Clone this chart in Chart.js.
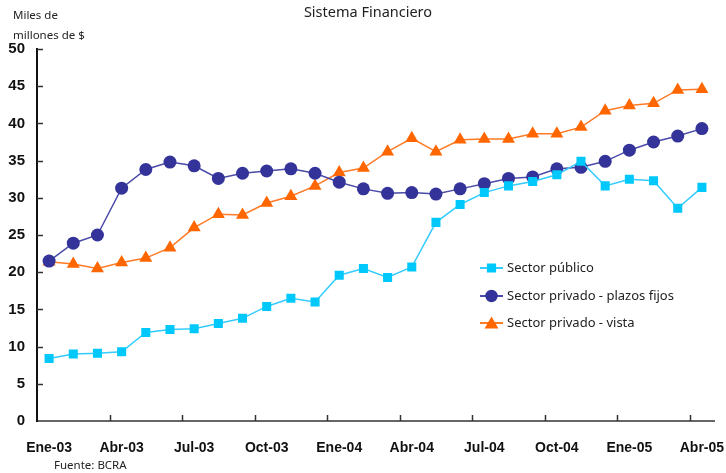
<!DOCTYPE html>
<html>
<head>
<meta charset="utf-8">
<script src="https://cdn.jsdelivr.net/npm/chart.js@4.4.1/dist/chart.umd.min.js"></script>
<style>
  body { margin: 0; background: #fff; }
  #wrap { position: relative; width: 726px; height: 473px; font-family: "Noto Sans", sans-serif; color: #222; }
  #c { position: absolute; left: 0; top: 0; }
  .txt { position: absolute; white-space: nowrap; line-height: 1; }
</style>
</head>
<body>
<div id="wrap">
  <canvas id="c" width="726" height="473"></canvas>
  <div class="txt" style="left:0;width:736px;text-align:center;top:4px;font-size:14.5px;">Sistema Financiero</div>
  <div class="txt" style="left:13px;top:9px;font-size:11.5px;">Miles de</div>
  <div class="txt" style="left:13px;top:29px;font-size:11.5px;">millones de $</div>
  <div class="txt" style="left:54px;top:459px;font-size:11.5px;">Fuente: BCRA</div>
</div>
<script>
// monthly categories Ene-03 .. Abr-05
const months = ['Ene-03','Feb-03','Mar-03','Abr-03','May-03','Jun-03','Jul-03','Ago-03','Sep-03','Oct-03','Nov-03','Dic-03',
                'Ene-04','Feb-04','Mar-04','Abr-04','May-04','Jun-04','Jul-04','Ago-04','Sep-04','Oct-04','Nov-04','Dic-04',
                'Ene-05','Feb-05','Mar-05','Abr-05'];
const tickLabels = ['Ene-03','Abr-03','Jul-03','Oct-03','Ene-04','Abr-04','Jul-04','Oct-04','Ene-05','Abr-05'];

const publico = [8.4, 9.0, 9.1, 9.3, 11.9, 12.3, 12.4, 13.1, 13.8, 15.4, 16.5, 16.0,
                 19.6, 20.5, 19.3, 20.7, 26.7, 29.1, 30.7, 31.6, 32.2, 33.1, 34.9, 31.6,
                 32.5, 32.3, 28.6, 31.4];
const plazosFijos = [21.5, 23.9, 25.0, 31.3, 33.8, 34.8, 34.3, 32.6, 33.3, 33.6, 33.9, 33.3,
                     32.1, 31.2, 30.6, 30.7, 30.5, 31.2, 31.9, 32.6, 32.8, 33.9, 34.1, 34.9,
                     36.4, 37.5, 38.3, 39.3];
const vista = [21.4, 21.1, 20.5, 21.3, 21.9, 23.3, 26.0, 27.8, 27.7, 29.3, 30.2, 31.6,
               33.4, 34.0, 36.2, 38.0, 36.2, 37.8, 37.9, 37.9, 38.6, 38.6, 39.5, 41.7,
               42.4, 42.7, 44.5, 44.6];

const seriesNames = ['Sector público', 'Sector privado - plazos fijos', 'Sector privado - vista'];

// inward tick marks on both axes + legend inside the plot
const axisDecor = {
  id: 'axisDecor',
  afterDraw(chart) {
    const ctx = chart.ctx, xs = chart.scales.x, ys = chart.scales.y;
    ctx.save();
    ctx.strokeStyle = '#333';
    ctx.lineWidth = 1.5;
    ctx.beginPath();
    for (let i = 3; i < months.length; i += 3) {
      const px = Math.round((xs.getPixelForValue(i - 1) + xs.getPixelForValue(i)) / 2) + 0.5;
      ctx.moveTo(px, ys.bottom);
      ctx.lineTo(px, ys.bottom - 6);
    }
    ys.ticks.forEach(t => {
      if (t.value === 0) return;
      const py = Math.round(ys.getPixelForValue(t.value)) + 0.5;
      ctx.moveTo(xs.left, py);
      ctx.lineTo(xs.left + 6, py);
    });
    ctx.stroke();

    // legend
    const lx = 480, rows = [268, 296, 323];
    chart.data.datasets.forEach((ds, k) => {
      const y = rows[k];
      ctx.strokeStyle = ds.borderColor;
      ctx.lineWidth = 2;
      ctx.beginPath();
      ctx.moveTo(lx, y);
      ctx.lineTo(lx + 23, y);
      ctx.stroke();
      ctx.fillStyle = ds.pointBackgroundColor;
      ctx.strokeStyle = ds.pointBackgroundColor;
      Chart.helpers.drawPoint(ctx, {pointStyle: ds.pointStyle, radius: ds.pointRadius * 0.8, rotation: 0, borderWidth: 1}, lx + 11.5, y + (ds.pointStyle === 'triangle' ? 1.5 : 0));
      ctx.fillStyle = '#222';
      ctx.font = '13px "Noto Sans"';
      ctx.textBaseline = 'middle';
      ctx.fillText(ds.label, lx + 27, y);
    });
    ctx.restore();
  }
};

new Chart(document.getElementById('c'), {
  type: 'line',
  data: {
    labels: months,
    datasets: [
      { label: seriesNames[0], data: publico, borderColor: '#33CCFF', borderWidth: 1.5,
        pointStyle: 'rect', pointRadius: 6.4, pointBackgroundColor: '#00C8FA', pointBorderColor: '#00C8FA', pointBorderWidth: 0 },
      { label: seriesNames[1], data: plazosFijos, borderColor: '#4A4AA8', borderWidth: 1.5,
        pointStyle: 'circle', pointRadius: 6.5, pointBackgroundColor: '#333399', pointBorderColor: '#333399', pointBorderWidth: 0 },
      { label: seriesNames[2], data: vista, borderColor: '#FF7A26', borderWidth: 1.5,
        pointStyle: 'triangle', pointRadius: 7.5, pointBackgroundColor: '#FF6600', pointBorderColor: '#FF6600', pointBorderWidth: 0 }
    ]
  },
  options: {
    responsive: false,
    devicePixelRatio: 1,
    animation: false,
    layout: { padding: { top: 49, right: 12, left: 0, bottom: 0 } },
    plugins: { legend: { display: false }, title: { display: false }, tooltip: { enabled: false } },
    scales: {
      x: {
        offset: true,
        grid: { display: true, drawOnChartArea: false, drawTicks: false },
        border: { color: '#666', width: 2 },
        ticks: {
          autoSkip: false, maxRotation: 0, padding: 19, color: '#111',
          font: { family: '"Liberation Sans", Arial, sans-serif', size: 14, weight: 'bold' },
          callback: (v, i) => (i % 3 === 0 ? tickLabels[i / 3] : '')
        },
        afterFit: s => { s.height = 52; s.paddingLeft = 0; s.paddingRight = 0; }
      },
      y: {
        min: 0, max: 50,
        grid: { display: true, drawOnChartArea: false, drawTicks: false },
        border: { color: '#111', width: 2 },
        ticks: {
          stepSize: 5, padding: 12, color: '#111',
          font: { family: '"Liberation Sans", Arial, sans-serif', size: 15, weight: 'bold' }
        },
        afterFit: s => { s.width = 37; }
      }
    }
  },
  plugins: [axisDecor]
});
</script>
</body>
</html>
